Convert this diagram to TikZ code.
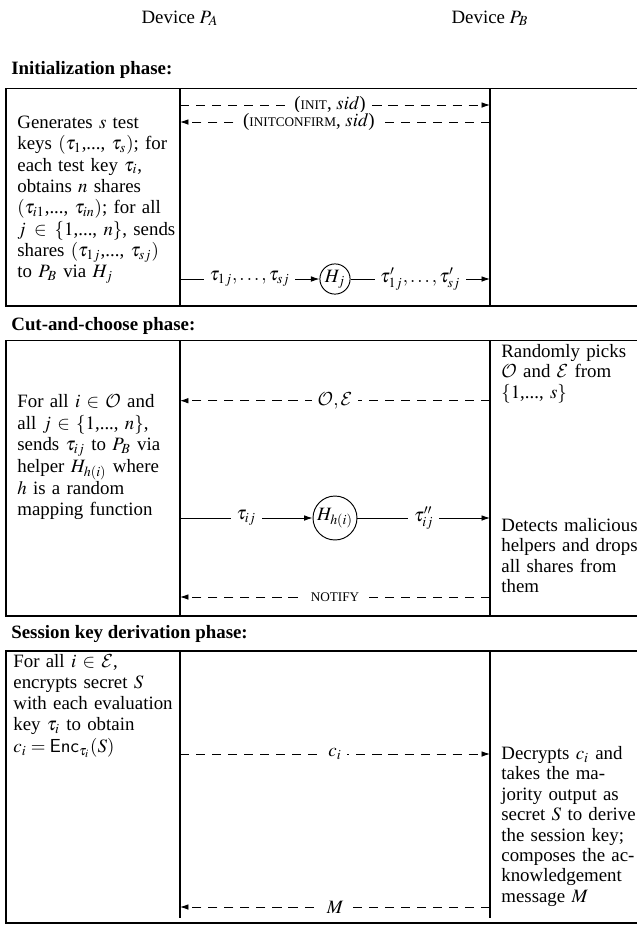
\documentclass[tikz,border=0pt]{standalone}
\usepackage{mathptmx}
\DeclareMathAlphabet{\mathcal}{OMS}{cmsy}{m}{n}
\usepackage{fontspec}
\setmainfont{Liberation Serif}
\usetikzlibrary{arrows.meta}
\newlength\colw
\setlength\colw{83.7pt}
\newcommand\jl[1]{\makebox[\colw][s]{#1}}
\newcommand\stretchln[2]{\makebox[#1][s]{#2}}
\newcommand\fsc[1]{{\fontsize{7pt}{8pt}\selectfont #1}}
\begin{document}
\begin{tikzpicture}[x=0.53pt,y=-0.53pt,
  frame/.style={line width=0.6pt},
  msg/.style={line width=0.5pt, dash pattern=on 4.8pt off 3.7pt, -{Latex[length=4.5pt,width=3pt]}},
  flow/.style={line width=0.5pt, -{Latex[length=4.5pt,width=3pt]}},
  lbl/.style={fill=white, inner xsep=3pt, inner ysep=0.8pt},
  para/.style={anchor=base west, inner sep=0pt, text width=\colw, align=left, font=\fontsize{10pt}{#1}\selectfont},
  ttl/.style={anchor=base west, inner sep=0pt, font=\bfseries},
  helper/.style={draw, circle, line width=0.5pt, inner sep=0pt}
]
\useasboundingbox (0,0) rectangle (637,926);
\clip (0,0) rectangle (637,926);
\fill[white] (0,0) rectangle (637,926);

% device headers
\node[anchor=base] (devA) at (180,23) {Device $P_A$};
\node[anchor=base] (devB) at (490,23) {Device $P_B$};

% ---------------- Initialization phase ----------------
\node[ttl] (t1) at (11,74) {Initialization phase:};
\draw[frame] (6,88.6) rectangle (700,306);
\draw[frame] (180,88.6) -- (180,306);
\draw[frame] (490,88.6) -- (490,306);

\node[para=11.3pt] (a1) at (17,128.5) {Generates $s$ test\\
\jl{keys $(\tau_1$,..., $\tau_s)$; for}\\
each test key $\tau_i$,\\
obtains $n$ shares\\
\jl{$(\tau_{i1}$,..., $\tau_{in})$; for all}\\
\jl{$j \in \{1$,..., $n\}$, sends}\\
\jl{shares $(\tau_{1j}$,..., $\tau_{sj})$}\\
to $P_B$ via $H_j$};

\coordinate (initL) at (180,105);
\coordinate (initR) at (490,105);
\draw[msg] (initL) -- node[lbl,pos=0.484]{(\fsc{INIT}, $sid$)} (initR);
\coordinate (confL) at (180,122);
\coordinate (confR) at (490,122);
\draw[msg] (confR) -- node[lbl,pos=0.584]{(\fsc{INITCONFIRM}, $sid$)} (confL);

\coordinate (trL) at (180,279);
\coordinate (trR) at (490,279);
\node[helper, minimum size=16pt] (Hj) at (335,279) {$H_j$};
\draw[flow] (trL) -- node[lbl]{$\tau_{1j},\ldots,\tau_{sj}$} (Hj);
\draw[flow] (Hj) -- node[lbl]{$\tau'_{1j},\ldots,\tau'_{sj}$} (trR);

% ---------------- Cut-and-choose phase ----------------
\node[ttl] (t2) at (11,330) {Cut-and-choose phase:};
\draw[frame] (6,340.7) rectangle (700,616);
\draw[frame] (180,340.7) -- (180,616);
\draw[frame] (490,340.7) -- (490,616);

\node[para=11.1pt] (b1) at (501,357) {Randomly picks\\
$\mathcal{O}$ and $\mathcal{E}$ from\\
$\{1$,..., $s\}$};

\node[para=11.5pt] (a2) at (17,407.5) {\stretchln{77pt}{For all $i$ $\in$ $\mathcal{O}$ and}\\
\stretchln{74pt}{all $j$ $\in$ $\{1$,..., $n\}$,}\\
\jl{sends $\tau_{ij}$ to $P_B$ via}\\
helper $H_{h(i)}$ where\\
$h$ is a random\\
mapping function};

\coordinate (oeL) at (180,400.7);
\coordinate (oeR) at (490,400.7);
\draw[msg] (oeR) -- node[lbl]{$\mathcal{O}, \mathcal{E}$} (oeL);

\coordinate (tiL) at (180,518);
\coordinate (tiR) at (490,518);
\node[helper, minimum size=23.3pt] (Hh) at (335,518) {$H_{h(i)}$};
\draw[flow] (tiL) -- node[lbl]{$\tau_{ij}$} (Hh);
\draw[flow] (Hh) -- node[lbl]{$\tau''_{ij}$} (tiR);

\node[para=10.8pt] (b2) at (501,531.5) {\jl{Detects malicious}\\
\jl{helpers and drops}\\
all shares from\\
them};

\coordinate (ntL) at (180,597);
\coordinate (ntR) at (490,597);
\draw[msg] (ntR) -- node[lbl]{\fsc{NOTIFY}} (ntL);

% ---------------- Session key derivation phase ----------------
\node[ttl] (t3) at (11,638) {Session key derivation phase:};
\draw[frame] (6,651) rectangle (700,923);
\draw[frame] (180,651) -- (180,918);
\draw[frame] (490,651) -- (490,918);

\node[para=11.3pt] (a3) at (13,667) {\stretchln{71pt}{For all $i$ $\in$ $\mathcal{E}$,}\\
encrypts secret $S$\\
\jl{with each evaluation}\\
key $\tau_i$ to obtain\\
$c_i = \mathsf{Enc}_{\tau_i}(S)$};

\coordinate (ciL) at (180,754);
\coordinate (ciR) at (490,754);
\draw[msg] (ciL) -- node[lbl]{$c_i$} (ciR);

\node[para=10.8pt] (b3) at (501,759.5) {Decrypts $c_i$ and\\
takes the ma-\\
jority output as\\
\jl{secret $S$ to derive}\\
the session key;\\
\jl{composes the ac-}\\
knowledgement\\
message $M$};

\coordinate (mL) at (180,907);
\coordinate (mR) at (490,907);
\draw[msg] (mR) -- node[lbl]{$M$} (mL);
\end{tikzpicture}
\end{document}
